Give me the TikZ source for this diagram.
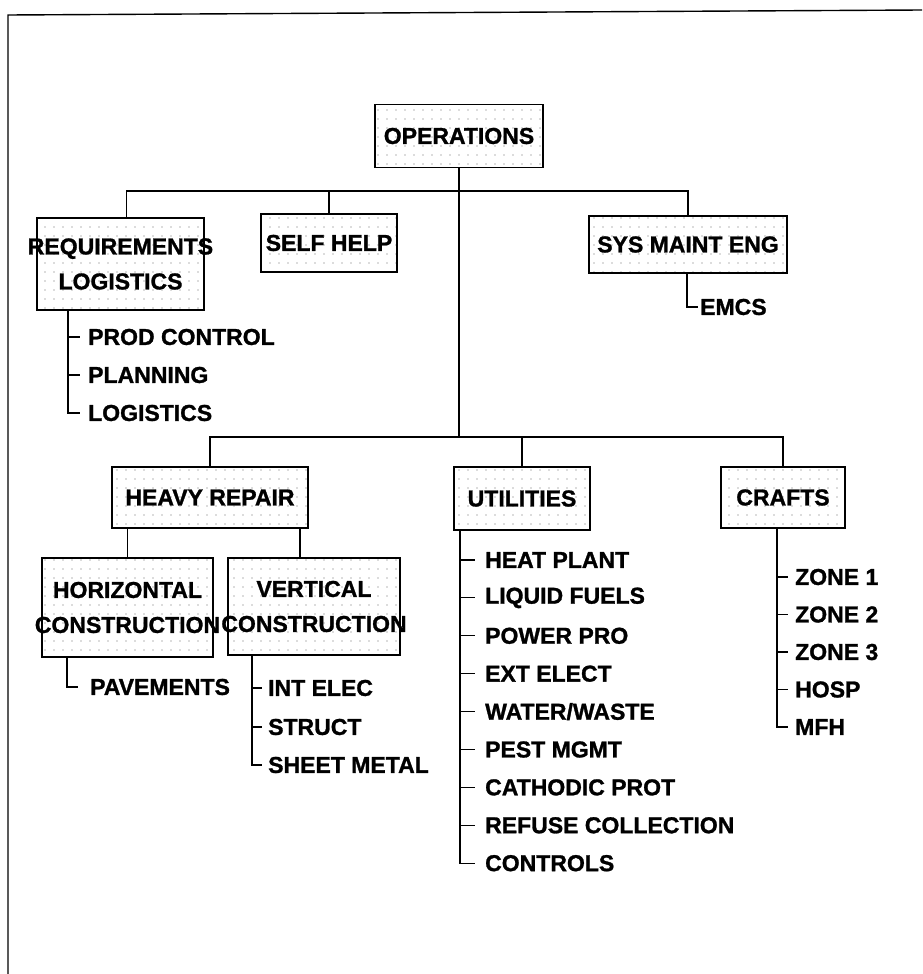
\documentclass[tikz,border=0pt]{standalone}
\usepackage{fontspec}
\setmainfont{Liberation Sans}[BoldFeatures={FakeBold=1.2}]
\usetikzlibrary{patterns.meta}

\tikzset{
  unit/.style={draw, line width=1.7pt, pattern={Dots[distance=9pt,radius=0.6pt]}, pattern color=black!60,
    inner sep=0pt, align=center, font=\bfseries\fontsize{23}{35}\selectfont},
  item/.style={anchor=west, inner sep=0pt, font=\bfseries\fontsize{23}{26}\selectfont},
  link/.style={line width=1.1pt},
}
\newcommand{\wide}[1]{\makebox[0pt]{#1}}

\begin{document}
\begin{tikzpicture}[x=1pt,y=-1pt]
\useasboundingbox (0,0) rectangle (922,974);
\draw[line width=1.4pt] (8,974) -- (8,15) -- (922,10); % frame

% boxes
\node[unit, minimum width=168pt, minimum height=63pt] (ops) at (459,136) {OPERATIONS};
\node[unit, minimum width=167pt, minimum height=92pt] (req) at (120.5,264) {\wide{REQUIREMENTS}\\\wide{LOGISTICS}};
\node[unit, minimum width=136pt, minimum height=58pt] (self) at (329,243) {SELF HELP};
\node[unit, minimum width=198pt, minimum height=57pt] (sys) at (688,244.5) {SYS MAINT ENG};
\node[unit, minimum width=196pt, minimum height=61pt] (heavy) at (210,497.5) {HEAVY REPAIR};
\node[unit, minimum width=171pt, minimum height=99pt] (horiz) at (127.5,607.5) {\wide{HORIZONTAL}\\\wide{CONSTRUCTION}};
\node[unit, minimum width=172pt, minimum height=97pt] (vert) at (314,606.5) {\wide{VERTICAL}\\\wide{CONSTRUCTION}};
\node[unit, minimum width=136pt, minimum height=63pt] (util) at (522,498.5) {UTILITIES};
\node[unit, minimum width=124pt, minimum height=61pt] (crafts) at (783,497.5) {CRAFTS};

% buses
\coordinate (busA) at (459,191);
\coordinate (busB) at (459,437);
\draw[link] (ops.south) -- (busB);
\draw[link] ([xshift=6pt]req.north) |- (busA) -| (sys.north);
\draw[link] (self.north) -- (self.north |- busA);
\draw[link] (heavy.north) |- (busB) -| (crafts.north);
\draw[link] (util.north) -- (util.north |- busB);
\draw[link] (horiz.north) -- (horiz.north |- heavy.south);
\draw[link] ([xshift=-14pt]vert.north) -- ([xshift=-14pt]vert.north |- heavy.south);

% requirements list
\node[item] (prod) at (88,337) {PROD CONTROL};
\node[item] (plan) at (88,375) {PLANNING};
\node[item] (logi) at (88,413) {LOGISTICS};
\coordinate (reqS) at ([xshift=-52.5pt]req.south);
\draw[link] (reqS) |- ([xshift=-8pt]logi.west);
\foreach \n in {prod,plan}
  \draw[link] (reqS |- \n.west) -- ([xshift=-8pt]\n.west);

% sys maint eng
\node[item] (emcs) at (700,307) {EMCS};
\draw[link] ([xshift=-1pt]sys.south) |- ([xshift=-2pt]emcs.west);

% horizontal construction
\node[item] (pave) at (90,687) {PAVEMENTS};
\draw[link] ([xshift=-60.5pt]horiz.south) |- ([xshift=-12pt]pave.west);

% vertical construction
\node[item] (intel) at (268,688) {INT ELEC};
\node[item] (struct) at (268,727) {STRUCT};
\node[item] (sheet) at (268,765) {SHEET METAL};
\coordinate (vertS) at ([xshift=-62pt]vert.south);
\draw[link] (vertS) |- ([xshift=-6pt]sheet.west);
\foreach \n in {intel,struct}
  \draw[link] (vertS |- \n.west) -- ([xshift=-6pt]\n.west);

% utilities
\foreach \t [count=\i] in {HEAT PLANT,LIQUID FUELS,POWER PRO,EXT ELECT,WATER/WASTE,PEST MGMT,CATHODIC PROT,REFUSE COLLECTION,CONTROLS}
  \node[item] (u\i) at (485,{560+37.9*(\i-1)}) {\t};
\coordinate (utilS) at ([xshift=-62pt]util.south);
\draw[link] (utilS) |- ([xshift=-10pt]u9.west);
\foreach \i in {1,...,8}
  \draw[link] (utilS |- u\i.west) -- ([xshift=-10pt]u\i.west);

% crafts
\foreach \t [count=\i] in {ZONE 1,ZONE 2,ZONE 3,HOSP,MFH}
  \node[item] (c\i) at (795,{577+37.5*(\i-1)}) {\t};
\coordinate (craftS) at ([xshift=-6pt]crafts.south);
\draw[link] (craftS) |- ([xshift=-7pt]c5.west);
\foreach \i in {1,...,4}
  \draw[link] (craftS |- c\i.west) -- ([xshift=-7pt]c\i.west);
\end{tikzpicture}
\end{document}
